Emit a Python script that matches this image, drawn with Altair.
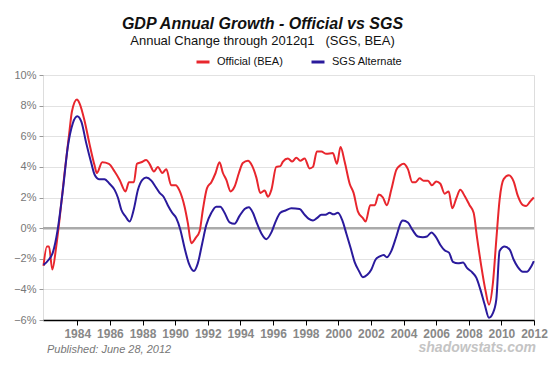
import altair as alt
import pandas as pd

# Official (BEA) annual growth, % (decimal year)
official_year = [1981.93, 1982.14, 1982.27, 1982.47, 1982.71, 1982.91, 1983.22, 1983.53, 1983.67, 1983.98,
                 1984.14, 1984.45, 1984.75, 1985.06, 1985.2, 1985.53, 1985.94, 1986.29, 1986.6, 1986.96,
                 1987.17, 1987.47, 1987.66, 1987.92, 1988.23, 1988.43, 1988.7, 1988.94, 1989.21, 1989.46,
                 1989.76, 1990.03, 1990.27, 1990.58, 1990.78, 1990.99, 1991.25, 1991.5, 1991.7, 1991.95,
                 1992.22, 1992.48, 1992.72, 1992.93, 1993.14, 1993.4, 1993.64, 1993.91, 1994.15, 1994.46,
                 1994.73, 1994.98, 1995.22, 1995.49, 1995.69, 1995.9, 1996.2, 1996.45, 1996.61, 1996.91,
                 1997.18, 1997.43, 1997.67, 1997.94, 1998.24, 1998.45, 1998.69, 1998.96, 1999.27, 1999.67,
                 1999.92, 2000.14, 2000.39, 2000.7, 2000.94, 2001.2, 2001.51, 2001.68, 2001.96, 2002.24,
                 2002.48, 2002.74, 2002.98, 2003.25, 2003.56, 2003.8, 2004.0, 2004.27, 2004.54, 2004.74,
                 2004.99, 2005.23, 2005.5, 2005.74, 2006.01, 2006.26, 2006.52, 2006.77, 2006.99, 2007.24,
                 2007.48, 2007.75, 2008.05, 2008.3, 2008.5, 2008.77, 2009.03, 2009.24, 2009.48, 2009.69,
                 2009.89, 2010.14, 2010.46, 2010.75, 2011.01, 2011.32, 2011.52, 2011.77, 2011.99]
official_val = [-2.46, -1.2, -1.2, -2.7, -1.2, 0.54, 3.6, 6.4, 7.6, 8.4,
                8.15, 7.0, 5.5, 4.1, 3.6, 4.3, 4.2, 3.7, 3.15, 2.4,
                3.0, 3.0, 4.2, 4.3, 4.45, 4.2, 3.7, 4.0, 3.6, 3.85,
                2.8, 2.8, 2.45, 1.4, 0.33, -0.98, -0.65, -0.2, 1.2, 2.6,
                3.0, 3.6, 4.3, 3.6, 3.15, 2.4, 2.7, 3.6, 4.25, 4.4,
                4.05, 3.3, 2.3, 2.45, 2.05, 2.5, 4.0, 4.05, 4.35, 4.55,
                4.35, 4.6, 4.4, 4.55, 3.9, 4.0, 5.0, 5.0, 4.85, 4.9,
                4.2, 5.3, 4.35, 2.9, 2.3, 1.1, 0.65, 0.43, 1.5, 1.5,
                2.2, 2.0, 1.5, 2.5, 3.8, 4.1, 4.2, 3.85, 3.0, 3.0,
                3.25, 3.1, 3.1, 2.8, 3.05, 2.9, 2.25, 2.4, 1.3, 1.95,
                2.5, 2.1, 1.5, 1.0, -0.55, -2.5, -4.1, -5.0, -3.6, -0.75,
                1.85, 3.2, 3.45, 3.05, 2.1, 1.5, 1.45, 1.75, 2.0]

# SGS Alternate annual growth, %
sgs_year = [1981.93, 1982.26, 1982.5, 1982.8, 1983.12, 1983.42, 1983.73, 1984.0, 1984.25, 1984.55,
            1984.86, 1985.06, 1985.33, 1985.67, 1985.98, 1986.29, 1986.49, 1986.7, 1986.96, 1987.21,
            1987.46, 1987.72, 1987.99, 1988.23, 1988.54, 1988.8, 1989.05, 1989.29, 1989.55, 1989.82,
            1990.07, 1990.32, 1990.58, 1990.84, 1991.15, 1991.39, 1991.66, 1991.91, 1992.22, 1992.52,
            1992.77, 1993.03, 1993.34, 1993.64, 1993.95, 1994.26, 1994.52, 1994.77, 1995.01, 1995.28,
            1995.59, 1995.9, 1996.16, 1996.45, 1996.77, 1997.12, 1997.63, 1997.94, 1998.2, 1998.45,
            1998.69, 1998.96, 1999.22, 1999.47, 1999.71, 1999.98, 2000.25, 2000.49, 2000.76, 2001.0,
            2001.27, 2001.51, 2001.78, 2002.03, 2002.29, 2002.54, 2002.78, 2002.98, 2003.25, 2003.56,
            2003.87, 2003.96, 2004.27, 2004.54, 2004.88, 2005.19, 2005.44, 2005.71, 2005.97, 2006.26,
            2006.52, 2006.79, 2007.03, 2007.34, 2007.65, 2007.89, 2008.22, 2008.47, 2008.71, 2008.98,
            2009.24, 2009.48, 2009.69, 2009.89, 2010.2, 2010.51, 2010.75, 2011.01, 2011.32, 2011.56,
            2011.83, 2011.99]
sgs_val = [-2.4, -2.05, -1.6, -0.1, 2.5, 5.3, 6.85, 7.3, 6.95, 5.55,
           4.25, 3.5, 3.2, 3.2, 2.9, 2.5, 2.0, 1.2, 0.76, 0.43,
           1.2, 2.5, 3.15, 3.3, 3.1, 2.7, 2.3, 2.05, 1.5, 1.0,
           0.65, -0.1, -1.3, -2.3, -2.8, -2.3, -1.0, 0.2, 1.0, 1.4,
           1.4, 1.0, 0.37, 0.28, 0.8, 1.25, 1.37, 1.0, 0.33, -0.33,
           -0.72, -0.28, 0.43, 1.0, 1.15, 1.3, 1.25, 0.87, 0.6, 0.5,
           0.65, 0.87, 0.87, 1.0, 0.9, 1.0, 0.5, -0.33, -1.3, -2.2,
           -2.8, -3.2, -3.05, -2.7, -2.05, -1.85, -1.75, -1.9, -1.5, -0.55,
           0.43, 0.5, 0.37, -0.1, -0.55, -0.6, -0.55, -0.28, -0.55, -1.1,
           -1.45, -1.6, -2.2, -2.3, -2.25, -2.6, -2.9, -3.25, -4.0, -5.0,
           -5.85, -5.55, -4.65, -1.5, -1.2, -1.4, -2.05, -2.55, -2.85, -2.85,
           -2.5, -2.15]

series_names = ["Official (BEA)", "SGS Alternate"]
series_colors = ["#e8262d", "#2a1a9c"]
x_ticks = list(range(1984, 2013, 2))
y_ticks = list(range(-6, 11, 2))

df = pd.concat([
    pd.DataFrame({"year": official_year, "value": official_val, "series": series_names[0], "order": range(len(official_year))}),
    pd.DataFrame({"year": sgs_year, "value": sgs_val, "series": series_names[1], "order": range(len(sgs_year))}),
])

FONT = "Liberation Sans"
y_scale = alt.Scale(domain=[-6, 10], nice=False)
y_axis = alt.Axis(values=y_ticks, labelExpr="format(datum.value, 'd') + '%'", title=None,
                  grid=True, gridColor="#e2e2e2", gridWidth=1, domain=False, labelOverlap=False,
                  tickColor="#999999", tickSize=4, labelColor="#777777",
                  labelFontSize=11, labelFont=FONT, labelPadding=3)

x_enc = alt.X("year:Q", scale=alt.Scale(domain=[1981.9, 2012], nice=False, zero=False),
              axis=alt.Axis(values=x_ticks, format="d", title=None, grid=False, labelOverlap=False,
                            labelFlush=False,
                            domainColor="black", domainWidth=1.5, tickColor="black", tickSize=5,
                            labelColor="#888888", labelFontWeight="bold", labelFontSize=12,
                            labelFont=FONT, labelPadding=3))

zero = alt.Chart(pd.DataFrame({"value": [0]})).mark_rule(color="#aaaaaa", strokeWidth=2.5).encode(
    y=alt.Y("value:Q", scale=y_scale, axis=y_axis))

lines = alt.Chart(df).mark_line(strokeWidth=2, interpolate="monotone").encode(
    x=x_enc, y=alt.Y("value:Q", scale=y_scale, axis=y_axis), order="order:Q",
    color=alt.Color("series:N", scale=alt.Scale(domain=series_names, range=series_colors),
                    legend=alt.Legend(title=None, orient="none", direction="horizontal",
                                      legendX=152, legendY=-21, symbolType="stroke",
                                      symbolStrokeWidth=3, symbolSize=169, labelFontSize=11,
                                      labelFont=FONT, labelColor="#111111", columnPadding=22,
                                      labelOffset=6)))

footer = pd.DataFrame({"t": ["Published: June 28, 2012"]})
pub = alt.Chart(footer).mark_text(align="left", baseline="alphabetic", fontStyle="italic",
                                  fontSize=11, font=FONT, color="#777777").encode(
    text="t:N", x=alt.value(4), y=alt.value(278))
brand = alt.Chart(pd.DataFrame({"t": ["shadowstats.com"]})).mark_text(
    align="right", baseline="alphabetic", fontStyle="italic", fontWeight="bold",
    fontSize=14, font=FONT, color="#c4c4c4").encode(text="t:N", x=alt.value(493), y=alt.value(277))

chart = alt.layer(zero, lines, pub, brand).properties(
    width=491, height=245,
    title=alt.Title("GDP Annual Growth - Official vs SGS",
                    subtitle="Annual Change through 2012q1\u00a0\u00a0 (SGS, BEA)",
                    font=FONT, fontSize=16, fontStyle="italic", fontWeight="bold", color="#111111",
                    subtitleFont=FONT, subtitleFontSize=13, subtitleColor="#111111",
                    anchor="middle", dx=-26, offset=6, subtitlePadding=3),
    autosize=alt.AutoSizeParams(type="none"),
    padding={"left": 35, "top": 67, "right": 15, "bottom": 40},
).configure_view(stroke=None).configure(background="white")

chart.save("out.html", embed_options={"renderer": "svg", "actions": False})
